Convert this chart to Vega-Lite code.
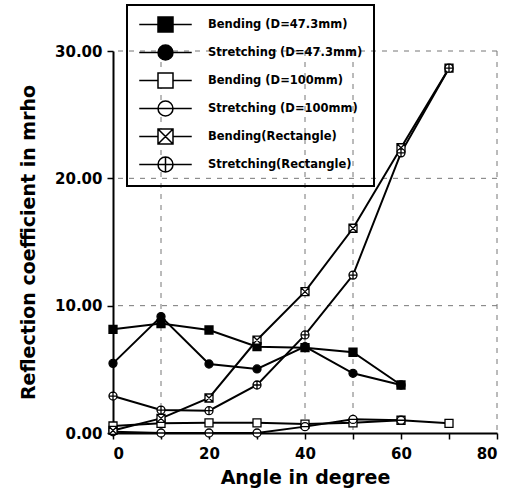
{
  "$schema": "https://vega.github.io/schema/vega-lite/v6.json",
  "width": 384,
  "height": 382,
  "autosize": {"type": "none"},
  "padding": {"left": 113, "top": 51, "right": 11, "bottom": 57},
  "background": "white",
  "config": {
    "view": {"stroke": null},
    "font": "DejaVu Sans",
    "legend": {"strokeWidth": 2},
    "axis": {
      "domainColor": "black",
      "domainWidth": 2,
      "tickColor": "black",
      "tickWidth": 1.5,
      "tickSize": 6,
      "labelFont": "DejaVu Sans",
      "labelFontWeight": "bold",
      "labelFontSize": 15,
      "labelColor": "black",
      "titleFont": "DejaVu Sans",
      "titleFontWeight": "bold",
      "titleFontSize": 19,
      "titleColor": "black",
      "grid": false
    }
  },
  "datasets": {
    "measurements": [
      {"series": "Bending (D=47.3mm)", "angle": 0, "coef": 8.14},
      {"series": "Bending (D=47.3mm)", "angle": 10, "coef": 8.6},
      {"series": "Bending (D=47.3mm)", "angle": 20, "coef": 8.09},
      {"series": "Bending (D=47.3mm)", "angle": 30, "coef": 6.78},
      {"series": "Bending (D=47.3mm)", "angle": 40, "coef": 6.7},
      {"series": "Bending (D=47.3mm)", "angle": 50, "coef": 6.34},
      {"series": "Bending (D=47.3mm)", "angle": 60, "coef": 3.77},
      {"series": "Stretching (D=47.3mm)", "angle": 0, "coef": 5.47},
      {"series": "Stretching (D=47.3mm)", "angle": 10, "coef": 9.14},
      {"series": "Stretching (D=47.3mm)", "angle": 20, "coef": 5.42},
      {"series": "Stretching (D=47.3mm)", "angle": 30, "coef": 5.03},
      {"series": "Stretching (D=47.3mm)", "angle": 40, "coef": 6.78},
      {"series": "Stretching (D=47.3mm)", "angle": 50, "coef": 4.69},
      {"series": "Stretching (D=47.3mm)", "angle": 60, "coef": 3.77},
      {"series": "Bending (D=100mm)", "angle": 0, "coef": 0.55},
      {"series": "Bending (D=100mm)", "angle": 10, "coef": 0.76},
      {"series": "Bending (D=100mm)", "angle": 20, "coef": 0.8},
      {"series": "Bending (D=100mm)", "angle": 30, "coef": 0.8},
      {"series": "Bending (D=100mm)", "angle": 40, "coef": 0.7},
      {"series": "Bending (D=100mm)", "angle": 50, "coef": 0.8},
      {"series": "Bending (D=100mm)", "angle": 60, "coef": 1.0},
      {"series": "Bending (D=100mm)", "angle": 70, "coef": 0.76},
      {"series": "Stretching (D=100mm)", "angle": 0, "coef": 0.1},
      {"series": "Stretching (D=100mm)", "angle": 10, "coef": 0.0},
      {"series": "Stretching (D=100mm)", "angle": 20, "coef": 0.0},
      {"series": "Stretching (D=100mm)", "angle": 30, "coef": 0.0},
      {"series": "Stretching (D=100mm)", "angle": 40, "coef": 0.5},
      {"series": "Stretching (D=100mm)", "angle": 50, "coef": 1.07},
      {"series": "Stretching (D=100mm)", "angle": 60, "coef": 1.0},
      {"series": "Bending(Rectangle)", "angle": 0, "coef": 0.2},
      {"series": "Bending(Rectangle)", "angle": 10, "coef": 1.15},
      {"series": "Bending(Rectangle)", "angle": 20, "coef": 2.75},
      {"series": "Bending(Rectangle)", "angle": 30, "coef": 7.3},
      {"series": "Bending(Rectangle)", "angle": 40, "coef": 11.1},
      {"series": "Bending(Rectangle)", "angle": 50, "coef": 16.08},
      {"series": "Bending(Rectangle)", "angle": 60, "coef": 22.4},
      {"series": "Bending(Rectangle)", "angle": 70, "coef": 28.65},
      {"series": "Stretching(Rectangle)", "angle": 0, "coef": 2.9},
      {"series": "Stretching(Rectangle)", "angle": 10, "coef": 1.8},
      {"series": "Stretching(Rectangle)", "angle": 20, "coef": 1.75},
      {"series": "Stretching(Rectangle)", "angle": 30, "coef": 3.77},
      {"series": "Stretching(Rectangle)", "angle": 40, "coef": 7.7},
      {"series": "Stretching(Rectangle)", "angle": 50, "coef": 12.4},
      {"series": "Stretching(Rectangle)", "angle": 60, "coef": 22.0},
      {"series": "Stretching(Rectangle)", "angle": 70, "coef": 28.65}
    ],
    "gridAngles": [{"angle": 10}, {"angle": 40}, {"angle": 50}, {"angle": 80}],
    "gridCoefs": [{"coef": 10}, {"coef": 20}, {"coef": 30}]
  },
  "layer": [
    {
      "data": {"name": "gridAngles"},
      "mark": {"type": "rule", "stroke": "#777777", "strokeWidth": 1, "strokeDash": [5, 6]},
      "encoding": {
        "x": {"field": "angle", "type": "quantitative", "title": "Angle in degree", "scale": {"domain": [0, 80], "nice": false}}
      }
    },
    {
      "data": {"name": "gridCoefs"},
      "mark": {"type": "rule", "stroke": "#777777", "strokeWidth": 1, "strokeDash": [5, 6]},
      "encoding": {
        "y": {"field": "coef", "type": "quantitative", "title": "Reflection coefficient in mrho", "scale": {"domain": [0, 30], "nice": false}}
      }
    },
    {
      "data": {"name": "measurements"},
      "mark": {"type": "line", "stroke": "black", "strokeWidth": 2, "clip": false},
      "encoding": {
        "x": {
          "field": "angle", "type": "quantitative", "title": "Angle in degree",
          "scale": {"domain": [0, 80], "nice": false},
          "axis": {
            "values": [0, 10, 20, 30, 40, 50, 60, 70, 80],
            "labelExpr": "datum.value % 20 === 0 ? datum.label : ''",
            "labelPadding": 7,
            "titlePadding": 7
          }
        },
        "y": {
          "field": "coef", "type": "quantitative", "title": "Reflection coefficient in mrho",
          "scale": {"domain": [0, 30], "nice": false},
          "axis": {
            "values": [0, 10, 20, 30],
            "format": ".2f",
            "labelPadding": 5,
            "titlePadding": 16
          }
        },
        "detail": {"field": "series"}
      }
    },
    {
      "data": {"name": "measurements"},
      "mark": {"type": "point", "filled": true, "stroke": "black", "strokeWidth": 1.3, "size": 64, "opacity": 1, "clip": false},
      "encoding": {
        "x": {"field": "angle", "type": "quantitative", "title": "Angle in degree"},
        "y": {"field": "coef", "type": "quantitative", "title": "Reflection coefficient in mrho"},
        "shape": {
          "field": "series",
          "scale": {
            "domain": ["Bending (D=47.3mm)", "Stretching (D=47.3mm)", "Bending (D=100mm)", "Stretching (D=100mm)", "Bending(Rectangle)", "Stretching(Rectangle)"],
            "range": [
              "M-1,-1H1V1H-1Z",
              "M1,0A1,1 0 1,1 -1,0A1,1 0 1,1 1,0Z",
              "M-1,-1H1V1H-1Z",
              "M1,0A1,1 0 1,1 -1,0A1,1 0 1,1 1,0ZM-1,0H1",
              "M-1,-1H1V1H-1ZM-1,-1L1,1M-1,1L1,-1",
              "M1,0A1,1 0 1,1 -1,0A1,1 0 1,1 1,0ZM-1,0H1M0,-1V1"
            ]
          },
          "legend": null
        },
        "fill": {
          "field": "series",
          "scale": {
            "domain": ["Bending (D=47.3mm)", "Stretching (D=47.3mm)", "Bending (D=100mm)", "Stretching (D=100mm)", "Bending(Rectangle)", "Stretching(Rectangle)"],
            "range": ["black", "black", "white", "white", "white", "white"]
          },
          "legend": null
        }
      }
    },
    {
      "data": {"name": "measurements"},
      "transform": [{"filter": "datum.angle < 0"}],
      "mark": {"type": "point", "filled": true, "stroke": "black", "strokeWidth": 1.5, "opacity": 1},
      "encoding": {
        "x": {"field": "angle", "type": "quantitative", "title": "Angle in degree"},
        "y": {"field": "coef", "type": "quantitative", "title": "Reflection coefficient in mrho"},
        "shape": {
          "field": "series",
          "scale": {
            "domain": ["Bending (D=47.3mm)", "Stretching (D=47.3mm)", "Bending (D=100mm)", "Stretching (D=100mm)", "Bending(Rectangle)", "Stretching(Rectangle)"],
            "range": [
              "M-3.5,0H3.5M-1,-1H1V1H-1Z",
              "M-3.5,0H3.5M1,0A1,1 0 1,1 -1,0A1,1 0 1,1 1,0Z",
              "M-3.5,0H-1M1,0H3.5M-1,-1H1V1H-1Z",
              "M-3.5,0H3.5M1,0A1,1 0 1,1 -1,0A1,1 0 1,1 1,0Z",
              "M-3.5,0H-1M1,0H3.5M-1,-1H1V1H-1ZM-1,-1L1,1M-1,1L1,-1",
              "M-3.5,0H-1M1,0H3.5M1,0A1,1 0 1,1 -1,0A1,1 0 1,1 1,0ZM-1,0H1M0,-1V1"
            ]
          },
          "legend": {
            "title": null,
            "orient": "none",
            "legendX": 14,
            "legendY": -46,
            "strokeColor": "black",
            "padding": 11,
            "rowPadding": 7,
            "symbolSize": 225,
            "symbolOffset": 19,
            "labelOffset": 34,
            "labelFont": "DejaVu Sans",
            "labelFontWeight": "bold",
            "labelFontSize": 11.5,
            "labelColor": "black",
            "labelLimit": 300,
            "encode": {
              "symbols": {
                "stroke": {"value": "black"},
                "strokeWidth": {"value": 1.5},
                "opacity": {"value": 1},
                "fillOpacity": {"value": 1}
              }
            }
          }
        },
        "fill": {
          "field": "series",
          "scale": {
            "domain": ["Bending (D=47.3mm)", "Stretching (D=47.3mm)", "Bending (D=100mm)", "Stretching (D=100mm)", "Bending(Rectangle)", "Stretching(Rectangle)"],
            "range": ["black", "black", "white", "white", "white", "white"]
          },
          "legend": {
            "title": null,
            "orient": "none",
            "legendX": 14,
            "legendY": -46,
            "strokeColor": "black",
            "padding": 11,
            "rowPadding": 7,
            "symbolSize": 225,
            "symbolOffset": 19,
            "labelOffset": 34,
            "labelFont": "DejaVu Sans",
            "labelFontWeight": "bold",
            "labelFontSize": 11.5,
            "labelColor": "black",
            "labelLimit": 300,
            "encode": {
              "symbols": {
                "stroke": {"value": "black"},
                "strokeWidth": {"value": 1.5},
                "opacity": {"value": 1},
                "fillOpacity": {"value": 1}
              }
            }
          }
        }
      }
    }
  ],
  "resolve": {
    "scale": {"shape": "independent", "fill": "independent"},
    "legend": {"shape": "independent", "fill": "independent"}
  }
}
